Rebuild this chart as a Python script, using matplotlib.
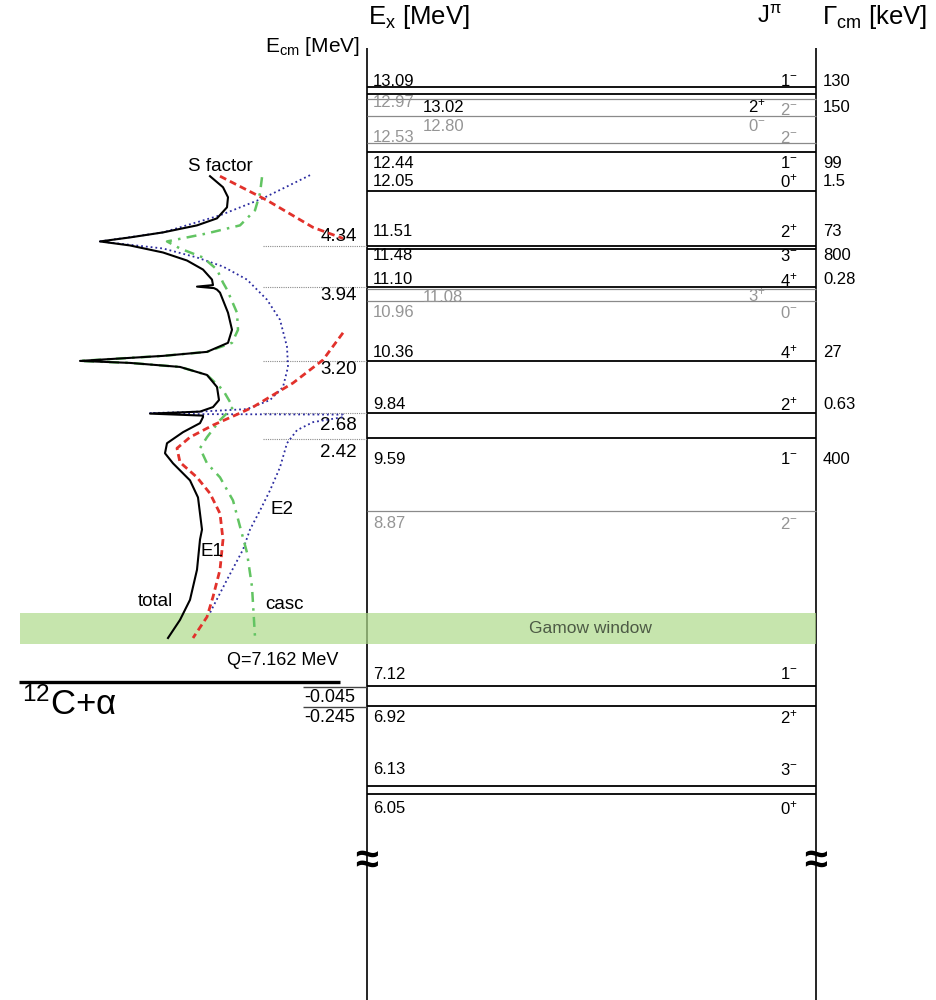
import matplotlib.pyplot as plt

plt.rcParams['font.family'] = ['Liberation Sans', 'DejaVu Sans']
plt.rcParams['mathtext.default'] = 'regular'

Q = 7.162  # 12C+alpha threshold in 16O [MeV]

# 16O levels
level_ex = [13.09, 13.02, 12.97, 12.80, 12.53, 12.44, 12.05, 11.51, 11.48, 11.10,
            11.08, 10.96, 10.36, 9.84, 9.59, 8.87, 7.12, 6.92, 6.13, 6.05]
level_jpi = ['1-', '2+', '2-', '0-', '2-', '1-', '0+', '2+', '3-', '4+',
             '3+', '0-', '4+', '2+', '1-', '2-', '1-', '2+', '3-', '0+']
level_gamma = ['130', '150', '', '', '', '99', '1.5', '73', '800', '0.28',
               '', '', '27', '0.63', '400', '', '', '', '', '']
level_known = [True, True, False, False, False, True, True, True, True, True,
               False, False, True, True, True, False, True, True, True, True]

# label layout (pixels below the level line, column)
ex_dy = [-6, 13, 3, 10, -6, 11, -10, -14, 7, -7, 9, 12, -9, -9, 21, 13, -12, 11, -16, 15]
jpi_dy = [-6, 12, 11, 10, -5, 11, -10, -14, 7, -7, 6, 12, -9, -9, 21, 13, -12, 11, -16, 15]
inner = [False, True, False, True, False, False, False, False, False, False,
         True, False, False, False, False, False, False, False, False, False]

# resonance energies in the cm system, marked on the left
ecm_marks = [4.34, 3.94, 3.20, 2.68, 2.42]
ecm_dy = [-10, 9, 9, 12, 13]
ecm_sub = [-0.045, -0.245]
gamow = (0.38, 0.69)

# S factor curves: E_cm [MeV] vs S (log, arbitrary units)
total_e = [5.04, 4.93, 4.83, 4.73, 4.62, 4.55, 4.48, 4.43, 4.39, 4.35, 4.28, 4.20, 4.11,
           4.01, 3.955, 3.94, 3.925, 3.91, 3.88, 3.68, 3.51, 3.38, 3.29, 3.25, 3.22, 3.20,
           3.18, 3.14, 3.06, 2.94, 2.81, 2.74, 2.695, 2.675, 2.655, 2.64, 2.58, 2.49,
           2.38, 2.28, 2.18, 2.01, 1.84, 1.52, 1.42, 1.12, 0.82, 0.62, 0.44]
total_s = [1.60, 1.47, 1.42, 1.43, 1.53, 1.73, 2.07, 2.40, 2.70, 2.40, 2.07, 1.83, 1.67,
           1.58, 1.57, 1.73, 1.56, 1.53, 1.50, 1.42, 1.38, 1.42, 1.63, 2.07, 2.57, 2.90,
           2.40, 1.90, 1.63, 1.53, 1.51, 1.57, 1.70, 2.20, 1.67, 1.67, 1.70, 1.87,
           2.03, 2.05, 1.97, 1.80, 1.72, 1.68, 1.70, 1.73, 1.80, 1.90, 2.02]

e1_top_e = [5.04, 4.80, 4.53, 4.42]
e1_top_s = [1.50, 1.03, 0.57, 0.27]
e1_e = [3.48, 3.21, 2.98, 2.74, 2.68, 2.56, 2.44, 2.33, 2.19, 2.04, 1.88, 1.68, 1.42,
        1.12, 0.85, 0.65, 0.44]
e1_s = [0.27, 0.47, 0.77, 1.17, 1.30, 1.57, 1.80, 1.93, 1.90, 1.73, 1.60, 1.50, 1.47,
        1.50, 1.57, 1.63, 1.77]

e2_e = [5.05, 4.82, 4.65, 4.48, 4.39, 4.32, 4.23, 4.14, 4.01, 3.81, 3.61, 3.34, 3.14,
        2.94, 2.81, 2.72, 2.695, 2.68, 2.67, 2.665, 2.64, 2.59, 2.51, 2.38, 2.14, 1.91,
        1.71, 1.52, 1.32, 1.02, 0.75, 0.69]
e2_s = [0.60, 1.07, 1.50, 2.07, 2.70, 2.07, 1.73, 1.47, 1.23, 1.03, 0.90, 0.83, 0.82,
        0.87, 1.00, 1.23, 1.70, 2.20, 1.70, 0.27, 0.27, 0.57, 0.73, 0.83, 0.90, 1.00,
        1.10, 1.20, 1.27, 1.43, 1.57, 1.60]

casc_e = [5.03, 4.87, 4.70, 4.55, 4.47, 4.39, 4.32, 4.23, 4.11, 3.98, 3.91, 3.68, 3.51,
          3.38, 3.29, 3.25, 3.20, 3.18, 3.14, 3.06, 2.91, 2.74, 2.61, 2.44, 2.33, 2.18,
          2.04, 1.81, 1.55, 1.29, 0.95, 0.45]
casc_s = [1.08, 1.10, 1.15, 1.30, 1.63, 2.03, 1.90, 1.67, 1.53, 1.47, 1.43, 1.33, 1.32,
          1.38, 1.63, 2.07, 2.90, 2.40, 1.90, 1.63, 1.47, 1.37, 1.50, 1.63, 1.70, 1.63,
          1.50, 1.37, 1.30, 1.23, 1.18, 1.15]

W, H = 937, 1000
Y_TOP, Y_BOT = 13.957, 3.996
XL, XR = 367, 816
PX = 0.72  # points per pixel

fig = plt.figure(figsize=(W / 100, H / 100), dpi=100)
ax = fig.add_axes([0, 0, 1, 1])
ax.set_xlim(0, W)
ax.set_ylim(Y_BOT, Y_TOP)
ax.axis('off')

# S factor panel, sharing the energy scale
axs = fig.add_axes([0, 0, 370 / W, 1])
axs.set_xlim(3.70, 0)
axs.set_ylim(Y_BOT - Q, Y_TOP - Q)
axs.axis('off')
axs.patch.set_alpha(0)

axs.plot(e2_s, e2_e, color='#2b2ba0', ls=':', lw=1.3, zorder=2)
axs.plot(casc_s, casc_e, color='#62c462', ls=(0, (4, 2.5, 1, 2.5)), lw=1.8, zorder=2)
axs.plot(e1_top_s, e1_top_e, color='#e2312b', ls=(0, (2.5, 1.5)), lw=2, zorder=2)
axs.plot(e1_s, e1_e, color='#e2312b', ls=(0, (2.5, 1.5)), lw=2, zorder=2)
axs.plot(total_s, total_e, color='black', lw=1.5, zorder=3)

axs.text(1.50, 5.14, 'S factor', fontsize=13.5, ha='center', va='center')
axs.text(0.88, 1.72, 'E2', fontsize=13.5, ha='center', va='center')
axs.text(1.58, 1.30, 'E1', fontsize=13.5, ha='center', va='center')
axs.text(2.15, 0.80, 'total', fontsize=13.5, ha='center', va='center')
axs.text(0.85, 0.77, 'casc', fontsize=13.5, ha='center', va='center')

# vertical frame lines
ax.vlines([XL, XR], Y_BOT, 13.48, color='black', lw=1.2)

# levels
for i, ex in enumerate(level_ex):
    col = 'black' if level_known[i] else '#8a8a8a'
    tcol = 'black' if level_known[i] else '#959595'
    ax.hlines(ex, XL, XR, color=col, lw=1.3 if level_known[i] else 0.9)
    xl = 423 if inner[i] else 373
    xj = 748 if inner[i] else 780
    ax.annotate('%.2f' % ex, (xl, ex), xytext=(0, -ex_dy[i] * PX), textcoords='offset points',
                fontsize=12, color=tcol, ha='left', va='center')
    j = level_jpi[i]
    ax.annotate(j[0] + '$^{' + j[1] + '}$', (xj, ex), xytext=(0, -jpi_dy[i] * PX),
                textcoords='offset points', fontsize=12, color=tcol, ha='left', va='center')
    if level_gamma[i]:
        ax.annotate(level_gamma[i], (823, ex), xytext=(0, -ex_dy[i] * PX),
                    textcoords='offset points', fontsize=12, ha='left', va='center')

# cm energies of the resonances
for e, dy in zip(ecm_marks, ecm_dy):
    ax.hlines(e + Q, 263, XL, color='#8a8a8a', lw=0.8, ls=(0, (1, 1)))
    ax.annotate('%.2f' % e, (357, e + Q), xytext=(0, -dy * PX), textcoords='offset points',
                fontsize=13.5, ha='right', va='center')
for e in ecm_sub:
    ax.hlines(e + Q, 303, XL, color='#444444', lw=1)
    ax.annotate('%.3f' % e, (355, e + Q), xytext=(0, -11 * PX), textcoords='offset points',
                fontsize=13, ha='right', va='center')

# threshold
ax.hlines(Q, 19, 340, color='black', lw=2.4)
ax.annotate('Q=%.3f MeV' % Q, (338, Q), xytext=(0, 22 * PX), textcoords='offset points',
            fontsize=13, ha='right', va='center')
ax.annotate('$^{12}$C+α', (22, Q), xytext=(0, -22 * PX), textcoords='offset points',
            fontsize=25, ha='left', va='center')

# Gamow window
ax.axhspan(gamow[0] + Q, gamow[1] + Q, xmin=20 / W, xmax=XR / W, color='#aedb8a',
           alpha=0.7, lw=0, zorder=4)
ax.text(590, sum(gamow) / 2 + Q, 'Gamow window', fontsize=12.5, color='#4d5a45',
        ha='center', va='center', zorder=5)

# axis breaks
for x in (XL, XR):
    ax.text(x, 5.37, '≈', fontsize=30, fontweight='bold', ha='center', va='center')

# headers
fig.text(368 / W, 1 - 17 / H, 'E$_{x}$ [MeV]', fontsize=18.5, ha='left', va='center')
fig.text(757 / W, 1 - 17 / H, 'J$^{π}$', fontsize=17, ha='left', va='center')
fig.text(822 / W, 1 - 17 / H, 'Γ$_{cm}$ [keV]', fontsize=18.5, ha='left', va='center')
fig.text(360 / W, 1 - 46 / H, 'E$_{cm}$ [MeV]', fontsize=15, ha='right', va='center')

fig.savefig('out.png', dpi=100)
